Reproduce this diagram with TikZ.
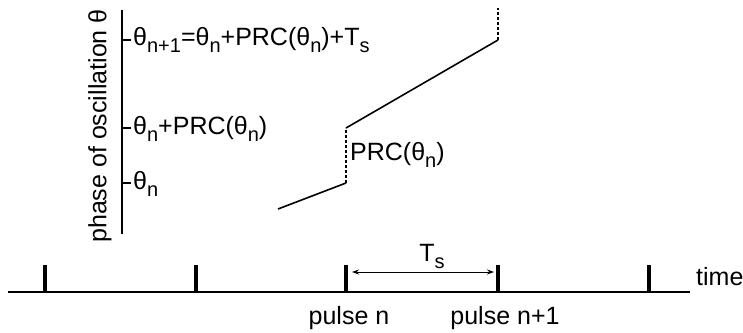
\documentclass[tikz,border=0pt]{standalone}
\usepackage{fontspec}
\setmainfont{Liberation Sans}
\usetikzlibrary{arrows.meta}
\newcommand{\sbs}[1]{\raisebox{-0.28em}{\fontsize{20}{20}\selectfont #1}}
\tikzset{
  lab/.style={font=\fontsize{25}{25}\selectfont, inner sep=0pt},
  axisline/.style={line width=2pt},
  tickthick/.style={line width=3.5pt},
  curve/.style={line width=1.6pt},
  dashv/.style={line width=1.6pt, dash pattern=on 3pt off 2pt},
}
\begin{document}
\begin{tikzpicture}[x=1pt,y=-1pt]
\useasboundingbox (0,0) rectangle (743,332);
% vertical axis
\coordinate (vtop) at (122,10);
\coordinate (vbot) at (122,234);
\draw[axisline] (vtop) -- (vbot);
\coordinate (y1) at (122,40);
\coordinate (y2) at (122,128);
\coordinate (y3) at (122,183);
\foreach \c in {y1,y2,y3} \draw[axisline] (\c) -- ++(9,0);
\node[lab, anchor=west] (l1) at (133,40) {θ\sbs{n+1}=θ\sbs{n}+PRC(θ\sbs{n})+T\sbs{s}};
\node[lab, anchor=west] (l2) at (133,129) {θ\sbs{n}+PRC(θ\sbs{n})};
\node[lab, anchor=west] (l3) at (133,184) {θ\sbs{n}};
\node[lab, rotate=90] (ax) at (100,126) {phase of oscillation θ};
% phase curve
\coordinate (p0) at (278,209);
\coordinate (p1) at (346,183);
\coordinate (p2) at (346,128);
\coordinate (p3) at (498,40);
\coordinate (p4) at (498,8);
\draw[curve] (p0) -- (p1);
\draw[dashv] (p1) -- (p2);
\draw[curve] (p2) -- (p3);
\draw[dashv] (p3) -- (p4);
\node[lab, anchor=west] (prc) at (350,155) {PRC(θ\sbs{n})};
% time axis
\coordinate (t0) at (8,292);
\coordinate (t1) at (690,292);
\draw[axisline] (t0) -- (t1);
\foreach \x/\n in {45/a,196/b,346/c,498/d,649/e} {
  \coordinate (k\n) at (\x,292);
  \draw[tickthick] (k\n) -- ++(0,-27);
}
\node[lab, anchor=west] (time) at (696,277) {time};
\coordinate (ar0) at (352,272);
\coordinate (ar1) at (494,272);
\draw[line width=1pt, {Stealth[length=7pt,width=5pt]}-{Stealth[length=7pt,width=5pt]}] (ar0) -- (ar1);
\node[lab] (ts) at (432,256) {T\sbs{s}};
\node[lab] (pn) at (349,318) {pulse n};
\node[lab] (pn1) at (505,318) {pulse n+1};
\end{tikzpicture}
\end{document}
